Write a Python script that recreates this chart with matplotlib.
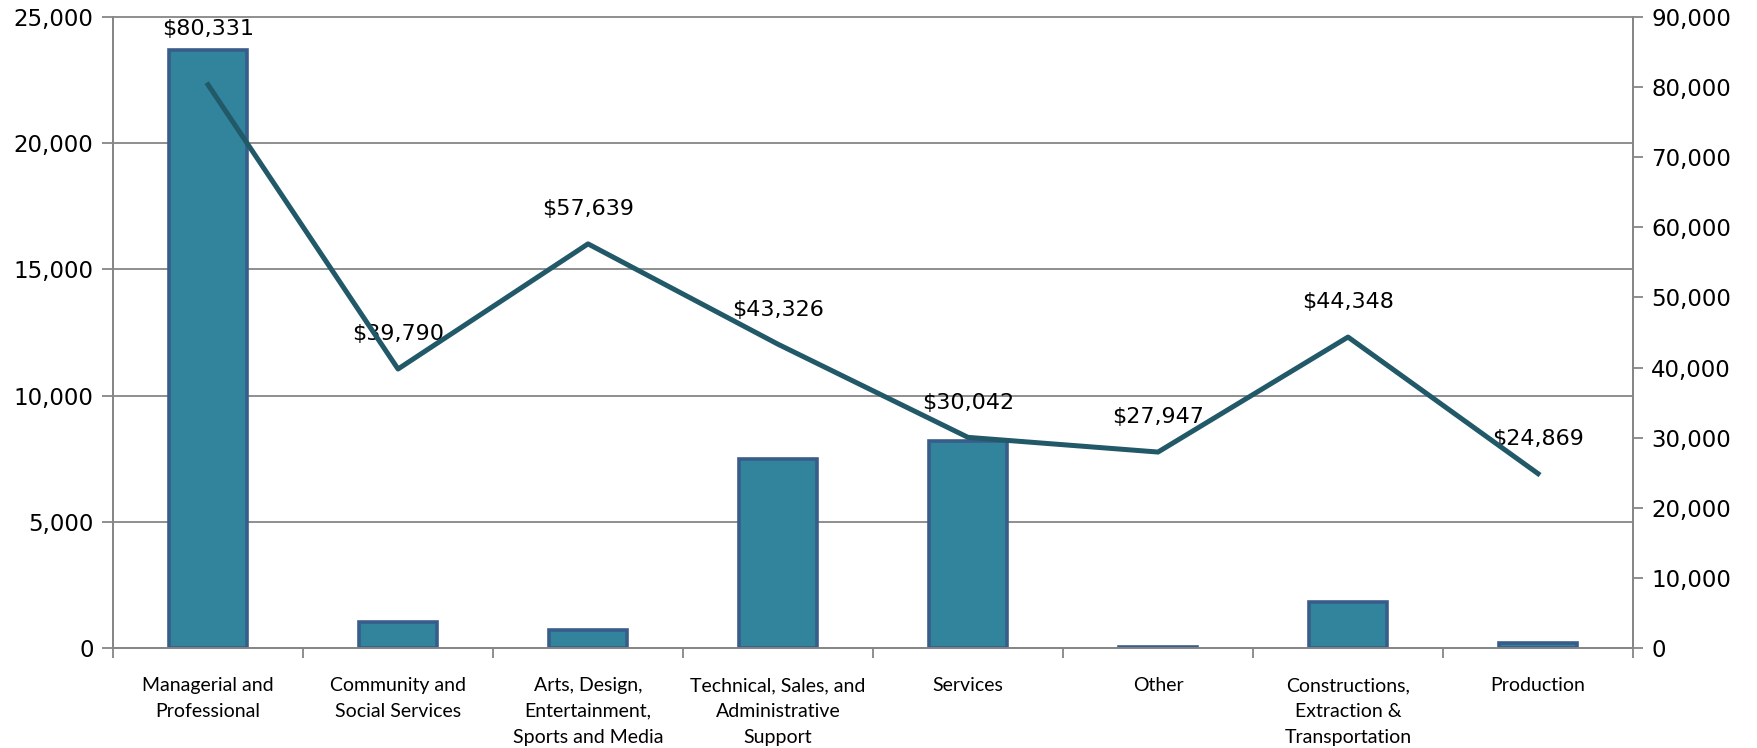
import matplotlib
matplotlib.use("Agg")
import matplotlib.pyplot as plt
from matplotlib import font_manager
from matplotlib.ticker import FuncFormatter
import numpy as np

# data
categories = ["Managerial and\nProfessional", "Community and\nSocial Services",
              "Arts, Design,\nEntertainment,\nSports and Media",
              "Technical, Sales, and\nAdministrative\nSupport", "Services", "Other",
              "Constructions,\nExtraction &\nTransportation", "Production"]
workers = [23700, 1020, 700, 7500, 8220, 50, 1830, 210]
median_pay = [80331, 39790, 57639, 43326, 30042, 27947, 44348, 24869]
left_ticks = [0, 5000, 10000, 15000, 20000, 25000]
right_ticks = [0, 10000, 20000, 30000, 40000, 50000, 60000, 70000, 80000, 90000]

names = {f.name for f in font_manager.fontManager.ttflist}
cat_font = "Lato" if "Lato" in names else "DejaVu Sans"

bar_color = "#31849B"
edge_color = "#385D8A"
line_color = "#215968"
axis_gray = "#868686"

fig = plt.figure(figsize=(17.58, 7.48), dpi=100)
ax = fig.add_axes([0.0643, 0.1337, 0.8646, 0.8436])
ax2 = ax.twinx()

x = np.arange(len(categories))
ax.bar(x, workers, width=0.41, color=bar_color, edgecolor=edge_color, linewidth=2.6, zorder=3)
ax.set_xlim(-0.5, len(categories) - 0.5)
ax.set_ylim(0, 25000)
ax.set_yticks(left_ticks)
ax.yaxis.set_major_formatter(FuncFormatter(lambda v, p: f"{int(v):,}"))
ax.grid(axis="y", color=axis_gray, linewidth=1.3, zorder=0)
for gl in ax.get_ygridlines():
    gl.set_clip_on(False)
ax.set_axisbelow(True)

ax.set_xticks(x)
ax.set_xticklabels(categories, fontfamily=cat_font, fontsize=14, linespacing=1.62)
ax.tick_params(axis="x", length=0, pad=21)
ax.set_xticks(np.arange(-0.5, len(categories)), minor=True)
ax.tick_params(axis="x", which="minor", length=7, width=1.3, color=axis_gray, direction="out")
ax.tick_params(axis="y", length=8, width=1.3, color=axis_gray, labelsize=16.5, pad=6)

ax2.plot(x, median_pay, color=line_color, linewidth=3.6, zorder=4)
ax2.set_ylim(0, 90000)
ax2.set_yticks(right_ticks)
ax2.yaxis.set_major_formatter(FuncFormatter(lambda v, p: f"{int(v):,}"))
ax2.tick_params(axis="y", length=7, width=1.3, color=axis_gray, labelsize=16.5, pad=6)

for i, v in enumerate(median_pay):
    off = 40 if i == 0 else 25
    ax2.annotate(f"${v:,}", (x[i], v), xytext=(0, off), textcoords="offset points",
                 ha="center", va="center", fontsize=16)

for a in (ax, ax2):
    a.spines["top"].set_visible(False)
    for s in ("left", "right", "bottom"):
        a.spines[s].set_color(axis_gray)
        a.spines[s].set_linewidth(1.3)

fig.savefig("out.png", dpi=100)
